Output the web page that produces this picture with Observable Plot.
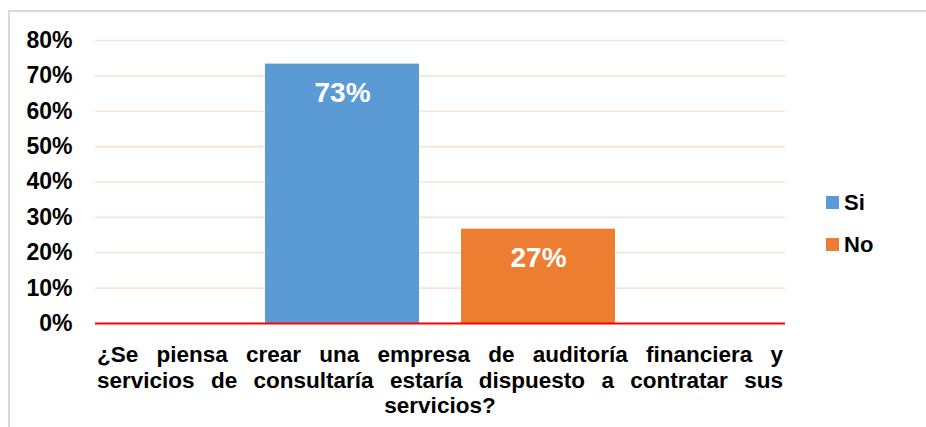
<!DOCTYPE html>
<html>
<head>
<meta charset="utf-8">
<script src="https://cdn.jsdelivr.net/npm/d3@7"></script>
<script src="https://cdn.jsdelivr.net/npm/@observablehq/plot@0.6"></script>
<style>
  html, body { margin: 0; padding: 0; background: #fff; }
  body { width: 926px; height: 427px; overflow: hidden; position: relative;
         font-family: "Liberation Sans", Arial, sans-serif; font-weight: bold; }
  #frame { position: absolute; left: 8px; top: 10px; width: 940px; height: 440px;
           border: 2px solid #d9d9d9; box-sizing: border-box; }
  #chart { position: absolute; left: 0; top: 0; }
  #legend { position: absolute; left: 826px; top: 189px; font-size: 22px; color: #000; }
  #legend .item { display: flex; align-items: center; height: 27px; margin-bottom: 15px; }
  #legend .sw { width: 13px; height: 13px; margin-right: 5px; }
  #xlabel { position: absolute; left: 97px; top: 342px; width: 686px; font-size: 22.5px;
            line-height: 25.5px; color: #000; }
  #xlabel .ln { text-align: justify; text-align-last: justify; white-space: nowrap; }
  #xlabel .ln.last { text-align: center; text-align-last: center; }
</style>
</head>
<body>
<div id="frame"></div>
<div id="chart"></div>
<div id="legend"></div>
<div id="xlabel"></div>
<script>
const categories = ["Si", "No"];
const values = [0.7333, 0.2667];
const colors = ["#5b9bd5", "#ed7d31"];
const yTicks = [0, 0.1, 0.2, 0.3, 0.4, 0.5, 0.6, 0.7, 0.8];
const categoryLabelLines = [
  "¿Se piensa crear una empresa de auditoría financiera y",
  "servicios de consultaría estaría dispuesto a contratar sus",
  "servicios?"
];

const data = categories.map((c, i) => ({category: c, value: values[i]}));
const pct = d => Math.round(d * 100) + "%";

const plot = Plot.plot({
  width: 926,
  height: 340,
  marginLeft: 95,
  marginRight: 141,
  marginTop: 40,
  marginBottom: 17,
  style: {background: "none", fontFamily: "'Liberation Sans', Arial, sans-serif", fontWeight: "bold", color: "#000"},
  x: {domain: categories, paddingInner: 0.213, paddingOuter: 0.858, axis: null},
  y: {domain: [0, 0.8], axis: null},
  color: {domain: categories, range: colors},
  marks: [
    Plot.gridY(yTicks.filter(t => t > 0), {stroke: "#fbe3d3", strokeOpacity: 1, strokeWidth: 1.6}),
    Plot.barY(data, {x: "category", y: "value", fill: "category"}),
    Plot.ruleY([0], {stroke: "#ff0000", strokeWidth: 2}),
    Plot.axisY({ticks: yTicks, tickFormat: pct, tickSize: 0, tickPadding: 23, fontSize: 23, fontWeight: "bold", fill: "#000", label: null}),
    Plot.text(data, {x: "category", y: "value", text: d => pct(d.value), dy: 29, fill: "white", fontSize: 28, fontWeight: "bold"})
  ]
});
document.getElementById("chart").appendChild(plot);

const legend = document.getElementById("legend");
categories.forEach((c, i) => {
  const item = document.createElement("div");
  item.className = "item";
  const sw = document.createElement("span");
  sw.className = "sw";
  sw.style.background = colors[i];
  const t = document.createElement("span");
  t.textContent = c;
  item.appendChild(sw); item.appendChild(t);
  legend.appendChild(item);
});

const xl = document.getElementById("xlabel");
categoryLabelLines.forEach((l, i) => {
  const d = document.createElement("div");
  d.className = "ln" + (i === categoryLabelLines.length - 1 ? " last" : "");
  d.textContent = l;
  xl.appendChild(d);
});
</script>
</body>
</html>
